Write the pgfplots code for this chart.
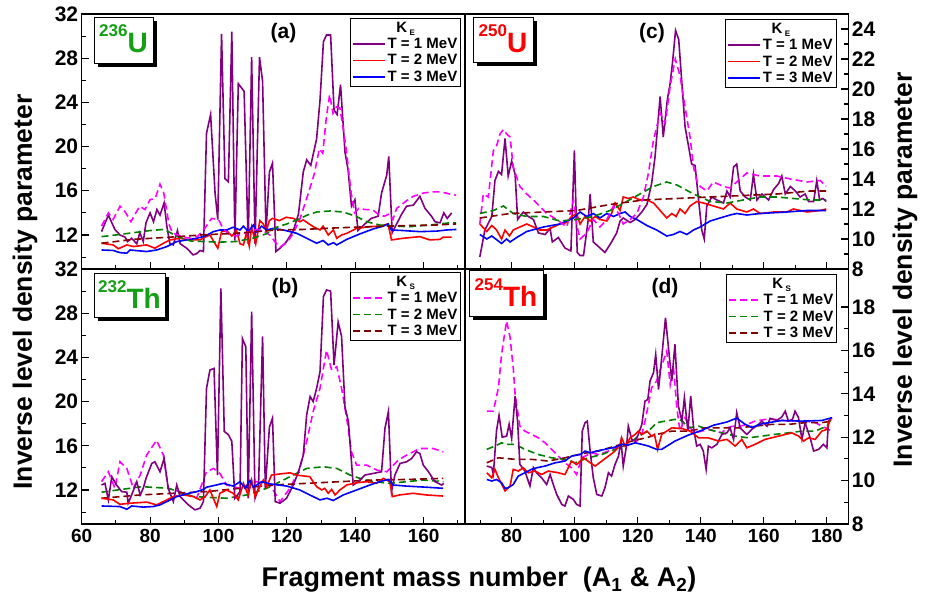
\documentclass[border=0pt]{standalone}
\usepackage{pgfplots}
\pgfplotsset{compat=1.18}
\usepackage{fontspec}
\setmainfont{Liberation Sans}
\definecolor{cpur}{RGB}{128,0,128}
\definecolor{cred}{RGB}{255,0,0}
\definecolor{cblu}{RGB}{0,0,255}
\definecolor{cmag}{RGB}{255,0,255}
\definecolor{cgrn}{RGB}{0,128,0}
\definecolor{cbrn}{RGB}{128,0,0}
\definecolor{lgrn}{RGB}{20,160,20}
\begin{document}
\begin{tikzpicture}[x=1pt,y=1pt]
\path[use as bounding box] (0,0) rectangle (926,605);
\pgfplotsset{
  every axis/.append style={
    scale only axis, width=383.3pt, height=255pt,
    axis line style={line width=1.4pt},
    tick style={line width=1.1pt, black},
    major tick length=7pt, minor tick length=4pt,
    minor x tick num=1, minor y tick num=1,
    yticklabel style={font=\fontsize{21}{23}\selectfont\bfseries},
    xticklabel style={font=\fontsize{19}{21}\selectfont\bfseries, yshift=-2pt},
    /pgf/number format/assume math mode=true,
    xtick pos=left,
    legend cell align=left,
    legend style={draw=black, line width=0.8pt, fill=white,
      font=\fontsize{15}{17}\selectfont\bfseries, inner sep=1.5pt, row sep=0.5pt,
      /tikz/every even column/.append style={column sep=4pt}},
    legend image code/.code={\draw[#1, line width=1.6pt] (0pt,0pt) -- (32pt,0pt);},
  },
  every axis plot/.append style={line width=1.6pt},
  ke1/.style={cpur, solid},
  ke2/.style={cred, solid},
  ke3/.style={cblu, solid},
  ks1/.style={cmag, dash pattern=on 7pt off 4pt},
  ks2/.style={cgrn, dash pattern=on 7pt off 4pt},
  ks3/.style={cbrn, dash pattern=on 7pt off 4pt},
}
\newcommand{\ltitle}[1]{\makebox[36pt][c]{K\,\raisebox{-3.5pt}{\fontsize{8}{9}\selectfont #1}}}
% ---------------- (a) 236U ----------------
\begin{axis}[at={(81.7pt,336pt)}, anchor=south west,
  xmin=60, xmax=172.1, ymin=8.92, ymax=32,
  xtick={60,80,...,180}, xticklabels={},
  ytick={8,12,...,32}, ytick pos=left,
  legend style={at={(0.99,0.985)}, anchor=north east}]
\addlegendimage{empty legend}\addlegendentry{\ltitle{E}}
\addplot[ke1] coordinates {(65.8,12.3)(67.8,13.8)(69.7,12.5)(71.2,12.0)(72.7,11.8)(73.4,11.4)(74.6,11.7)(76.1,11.2)(77,12.2)(78,11.4)(78.8,13.1)(80,14)(81,13.2)(82,14.3)(82.9,13.8)(84.1,14.9)(84.9,12.8)(85.8,11.2)(86.8,11.1)(88,12.4)(88.8,11.2)(90.7,10.8)(92.6,10.2)(93.6,10.3)(94.6,10.6)(95.6,10.5)(96.5,21.2)(97.7,22.9)(99,15.8)(99.8,13.4)(100.9,30.2)(101.9,17.1)(102.9,16.8)(103.9,30.4)(104.8,11.5)(105.8,25.7)(107.5,25)(108.7,11.2)(109.7,28.1)(110.7,11.2)(112,28.1)(112.9,25.9)(113.9,12.2)(114.9,17.7)(115.8,18.5)(116.8,10.5)(118,10.8)(119.9,11.4)(121.9,12.4)(123.4,13.9)(124.8,17.7)(125.8,18.8)(127,18.3)(128.7,20.7)(129.7,24.2)(130.7,29.5)(131.6,30.1)(132.8,30.1)(133.8,23.3)(134.7,22.9)(135.7,25.6)(137,19.5)(137.9,17.9)(138.9,14.6)(139.9,15.2)(140.8,12.4)(142.8,13)(144.7,13.5)(146.7,13.7)(147.7,15.8)(149.2,17.4)(149.8,19.1)(150.8,12.2)(152.1,13.0)(153.6,13.9)(155,14.6)(157,14.7)(158.9,15.5)(160.4,14.4)(162.3,13.7)(163.3,13.2)(164.8,13.1)(165.9,14)(166.9,13.5)(168.2,14.0)};
\addlegendentry{T = 1 MeV}
\addplot[ke2] coordinates {(65.8,11.25)(69.2,11.1)(70.7,10.75)(73.2,11.1)(75.1,10.95)(79,11.1)(81.4,10.8)(83.9,11.25)(85.8,11.55)(88.7,11.7)(91.7,11.55)(94.6,11.55)(96,11.8)(97.5,12.0)(99.8,10.8)(100.9,12.3)(102.4,12.4)(103.9,11.9)(105.3,12.4)(106.3,11.2)(107.3,11.1)(108.2,12.2)(109,11.0)(109.7,12.7)(110.2,12.1)(110.9,11.2)(111.6,12.4)(112.1,13.3)(113.1,13.0)(114,12.4)(114.9,13.3)(115.8,13.5)(117.8,13.3)(119.8,13.6)(121.9,13.5)(123.8,13.2)(124.8,13.36)(127.7,12.75)(129.7,12.45)(130.6,12.8)(132.1,12.0)(133.6,12.45)(134.6,11.7)(136,12.0)(137.5,12.15)(140.4,12.6)(144.3,12.75)(147.2,12.8)(149.6,13.0)(150.6,11.55)(154,11.7)(158.9,11.85)(161.8,11.55)(164.8,11.6)(165.7,11.8)(168.2,11.8)};
\addlegendentry{T = 2 MeV}
\addplot[ke3] coordinates {(65.8,10.64)(69.2,10.6)(71.2,10.4)(73.2,10.35)(74.1,10.64)(79,10.5)(81.9,10.64)(84.9,10.95)(87.8,11.4)(90.7,11.55)(93.6,11.7)(96.1,11.9)(98.5,12.3)(100.4,12.45)(102.4,12.45)(104.3,12.7)(106.3,12.45)(107.3,12.8)(108.7,12.3)(110.2,12.9)(111.2,12.3)(112.6,12.8)(114.1,12.45)(116,12.6)(119,12.45)(122.9,12.15)(125.8,11.7)(128.7,11.25)(130.6,11.5)(132.1,11.1)(133.6,11.3)(134.6,11.1)(137.5,11.6)(141.4,12.1)(145.3,12.55)(148.2,12.8)(149.6,13.0)(150.6,12.45)(154,12.4)(158.9,12.3)(163.8,12.35)(166.7,12.45)(169.6,12.5)};
\addlegendentry{T = 3 MeV}
\addplot[ks1, forget plot] coordinates {(65.8,12.8)(67.8,14)(69.2,13.4)(71.2,14.6)(72.7,14.1)(74.4,13.2)(76,14.1)(77,14.6)(78.5,14.3)(80,15.2)(81.5,15.3)(82.9,16.6)(84,15.8)(85.5,13)(86.5,12.2)(88,12)(90,11.8)(92,11.7)(94,11.9)(96,12.6)(98,13.5)(100,13.4)(101.5,12.5)(103,12.1)(105,11.9)(107,12.1)(109,12.3)(111,12.5)(113,12.4)(115,12.0)(117,11.2)(118,10.9)(120,11.3)(122,12.2)(124,13.6)(126,15.5)(128,17.5)(129.5,19.8)(130.5,19.4)(131.5,22.5)(132.5,24.7)(133.5,23)(134.5,23.6)(135.5,23.5)(136.5,21.6)(137.5,19.4)(138.8,15.8)(139.8,14)(141,14.4)(143,14.3)(145,14.3)(147,13.8)(148.5,13.7)(150,13.9)(151,13.4)(152.1,14.4)(155,15.1)(157,15.5)(160,15.8)(162.7,15.9)(165,15.9)(167.7,15.7)(169.5,15.6)};
\addplot[ks2, forget plot] coordinates {(65.8,11.85)(70,12.0)(75,12.2)(80,12.4)(84,12.5)(86,12.2)(88,11.85)(92,11.45)(96,11.4)(100,11.35)(105,11.4)(110,11.7)(114,12.1)(117,12.7)(120,13.0)(122.9,13.36)(126,13.8)(128.7,14.08)(132.6,14.17)(136.5,14.08)(140.4,13.66)(143.3,13.2)(147.2,12.9)(151.1,12.8)(156,12.75)(161.8,12.9)(167.7,13.1)(169.5,13.1)};
\addplot[ks3, forget plot] coordinates {(65.8,11.25)(75,11.6)(85.8,11.8)(95,12.0)(105,12.15)(117,12.45)(124.8,12.5)(135,12.65)(144.3,12.75)(155,12.85)(163.7,12.9)(169.5,13.0)};
\end{axis}
% ---------------- (b) 232Th ----------------
\begin{axis}[at={(81.7pt,81pt)}, anchor=south west,
  xmin=60, xmax=172.1, ymin=8.92, ymax=32,
  xtick={60,80,...,180},
  ytick={8,12,...,32}, ytick pos=left,
  legend style={at={(0.99,0.988)}, anchor=north east}]
\addlegendimage{empty legend}\addlegendentry{\ltitle{S}}
\addplot[ks1] coordinates {(65.8,12.75)(67.8,13.65)(69.7,12.15)(71.2,14.55)(73.2,13.95)(75.1,12.15)(77.1,13.35)(79.0,15.15)(81.9,16.5)(83.9,15.15)(85.3,12.15)(88.8,11.85)(93.6,11.25)(96.5,13.65)(98.5,13.95)(100.4,13.5)(102.4,12.45)(106.3,12.15)(111.2,12.75)(115.1,12.45)(118.0,10.95)(120.9,12.15)(123.8,13.95)(125.8,16.4)(127.7,19.1)(129.7,21.2)(131.6,24.65)(133.1,22.85)(134.6,23.15)(136.0,21.2)(137.5,18.5)(138.9,15.45)(140.4,14.25)(143.3,14.25)(146.3,13.8)(149.2,13.65)(150.2,13.95)(152.6,14.7)(155.0,15.15)(158.9,15.75)(162.8,15.75)(165.8,15.45)};
\addlegendentry{T = 1 MeV}
\addplot[ks2] coordinates {(65.8,11.8)(77.6,12.3)(85.4,12.15)(88.8,11.8)(92.7,11.4)(102.4,11.25)(108.2,11.55)(114.1,12.15)(118,12.75)(121.9,13.35)(125.8,13.95)(130.7,14.1)(134.6,13.95)(138.5,13.35)(141.4,13.05)(145.3,12.75)(150.2,12.6)(155,12.75)(159.9,12.9)(165.8,12.75)};
\addlegendentry{T = 2 MeV}
\addplot[ks3] coordinates {(65.8,11.25)(77.1,11.55)(86.8,11.7)(96.5,11.85)(106.3,12.15)(116,12.45)(125.8,12.6)(135.5,12.75)(145.3,12.9)(155,12.95)(165.8,13.05)};
\addlegendentry{T = 3 MeV}
\addplot[ke1, forget plot] coordinates {(65.8,12.45)(66.8,12.6)(67.8,11.1)(68.8,13.2)(70.2,12.45)(71.7,11.85)(73.2,11.8)(73.6,10.8)(74.6,11.55)(76.1,12.75)(77.1,11.55)(78.0,12.15)(78.8,13.05)(80.5,14.4)(81.4,14.55)(82.9,13.65)(84.1,14.85)(85.3,12.15)(86.8,10.95)(87.8,12.45)(88.8,11.4)(91.2,10.65)(93.1,10.2)(94.6,10.35)(95.6,10.95)(96.5,21.2)(97.5,22.85)(98.7,23.0)(99.7,13.35)(100.7,30.25)(101.7,17.3)(102.9,17.0)(103.9,16.4)(104.8,11.25)(106.3,11.85)(107.0,25.7)(108.0,24.95)(108.7,11.25)(109.7,28.15)(110.7,11.25)(111.7,12.15)(112.9,25.9)(113.7,12.15)(114.9,17.7)(115.8,18.5)(116.6,10.95)(118.0,10.8)(119.9,11.25)(121.9,12.45)(123.4,13.65)(124.8,15.15)(125.8,18.8)(126.8,20.45)(127.7,20.0)(128.7,21.2)(129.7,22.7)(130.7,29.5)(131.6,30.1)(132.8,30.0)(133.8,23.3)(135.0,27.2)(136.0,25.9)(137.0,19.5)(138.0,18.2)(138.9,14.55)(139.4,12.45)(140.9,12.75)(142.8,13.35)(145.3,13.5)(147.7,13.65)(148.7,17.6)(149.7,19.1)(150.6,11.85)(151.6,13.35)(153.1,14.4)(155.0,14.55)(156.5,14.85)(157.9,15.45)(158.9,15.3)(159.9,14.25)(161.4,13.65)(163.3,12.75)(165.3,12.45)(165.9,12.6)};
\addplot[ke2, forget plot] coordinates {(65.8,11.25)(69.2,11.1)(71.2,10.7)(74.1,10.8)(79,10.9)(81.9,10.65)(83.9,10.95)(86.8,11.4)(89.8,11.55)(92.7,11.4)(94.6,11.1)(96.1,11.4)(97.5,12.0)(99.5,10.5)(100.4,11.7)(102.4,12.0)(104.3,11.7)(105.8,11.1)(107.3,12.6)(108.7,11.55)(109.7,12.9)(110.7,11.4)(112.1,12.3)(113.1,12.9)(114.1,12.3)(115.5,13.35)(118,13.45)(120.9,13.55)(122.8,13.35)(126.7,13.2)(128.7,12.3)(130.2,12.0)(131.1,12.15)(132.1,11.7)(133.1,12.05)(134.1,11.55)(135.5,12.0)(137.5,12.45)(140.4,12.65)(143.3,12.75)(146.2,12.6)(148.2,13.05)(150.1,12.75)(150.9,11.4)(153,11.55)(156.9,11.7)(160.8,11.55)(165.7,11.45)};
\addplot[ke3, forget plot] coordinates {(65.8,10.55)(71.2,10.5)(73.2,10.25)(74.6,10.55)(78,10.45)(80.9,10.5)(82.9,10.65)(84.9,10.95)(87.8,11.4)(90.7,11.65)(93.6,11.85)(95.6,12.05)(96.5,12.25)(99.4,12.45)(101.4,12.6)(104.3,12.35)(106.3,12.75)(107.8,12.15)(109.2,12.85)(110.2,12.25)(112.6,12.75)(115.1,12.55)(120,12.35)(123.8,12.0)(126.7,11.55)(129.7,11.1)(131.7,11.25)(133.6,11.05)(136.5,11.55)(140.4,12.0)(144.3,12.45)(147.2,12.75)(149.6,12.95)(151.1,12.45)(155,12.35)(160.8,12.25)(165.7,12.15)};
\end{axis}
% ---------------- (c) 250U ----------------
\begin{axis}[at={(465pt,336pt)}, anchor=south west,
  xmin=65.2, xmax=186.8, ymin=8, ymax=25,
  xtick={60,80,...,180}, xticklabels={},
  ytick={8,10,...,24}, ytick pos=right, yticklabel pos=right,
  legend style={at={(0.969,0.98)}, anchor=north east}]
\addlegendimage{empty legend}\addlegendentry{\ltitle{E}}
\addplot[ke1] coordinates {(69.9,8.8)(71.5,10.6)(73.7,11.5)(74.7,13.9)(75.8,14.5)(76.8,14.3)(77.9,16.7)(78.9,14.2)(80,15.2)(81.1,14.3)(81.9,11.3)(83.7,11.8)(85.3,11.5)(86.9,11.3)(88.5,10.4)(90.6,10.3)(92.2,10.7)(92.9,9.8)(94.8,10.1)(96.9,9.4)(98.8,9.2)(99.9,15.9)(100.8,9.1)(101.7,8.9)(102.8,8.9)(104.3,11.3)(104.9,13.0)(105.9,9.8)(107.5,9.5)(109.6,9.1)(111.7,9.8)(113.3,10.4)(114.4,11.2)(115.4,11.4)(117.6,11.1)(119.2,11.3)(121.3,11.8)(122.9,12.3)(124.4,13.7)(125.5,15.5)(127.1,19.5)(128.1,16.8)(129.4,19.3)(130.3,20.4)(131.1,21.9)(132,23.9)(133,23.3)(134,20.4)(135,17.5)(136.1,16.2)(137.1,15.0)(138.2,14.9)(139.3,12.6)(140.3,10.6)(141.1,10.0)(141.9,12.2)(143.5,12.8)(145.1,12.6)(147.2,12.4)(148.3,13.2)(149.3,12.8)(150.4,14.8)(151.4,15.0)(152.5,13.2)(154.1,12.8)(155.7,12.6)(156.7,14.3)(157.8,12.6)(159.4,13.0)(160.4,12.8)(161.5,12.6)(163.1,13.3)(164.7,13.7)(165.7,14.2)(166.8,13.0)(168.4,13.5)(170,13.2)(171.5,12.8)(173.1,13.0)(174.2,12.5)(175.8,12.5)(176.8,13.9)(177.7,12.6)(178.7,12.7)(179.8,12.5)};
\addlegendentry{T = 1 MeV}
\addplot[ke2] coordinates {(69.9,11.0)(72.1,10.5)(73.7,10.9)(75.2,10.6)(76.8,10.0)(77.9,10.6)(79.3,10.2)(80.5,10.6)(82.6,10.8)(84.8,11.0)(86.9,10.8)(89,10.6)(91.1,10.6)(93.2,10.8)(95.3,11.0)(97.5,11.1)(99,11.5)(100.6,11.7)(101.7,11.0)(103.3,11.5)(104.9,11.2)(106.5,11.5)(108,11.3)(110.2,11.2)(111.7,11.7)(112.8,12.4)(114.4,11.9)(115.4,12.8)(117,12.7)(118.6,12.8)(120.7,12.6)(122.9,12.6)(125,12.4)(127.1,11.9)(129.2,11.4)(130.8,11.7)(132.2,11.5)(133.4,12.0)(135,11.7)(136.6,12.2)(138.7,12.5)(140.8,12.4)(144,12.2)(147.2,12.0)(149.3,12.4)(151.4,12.0)(154.6,11.8)(156.7,12.0)(158.8,11.7)(163.1,11.8)(167.3,11.8)(169.4,12.0)(173.7,11.8)(177.9,11.9)(179.8,12.0)};
\addlegendentry{T = 2 MeV}
\addplot[ke3] coordinates {(69.9,10.3)(72.1,10.0)(73.7,10.2)(76.8,9.7)(78.4,10.0)(79.5,9.8)(81.6,10.1)(84.8,10.5)(90.1,10.8)(95.3,11.0)(99.6,11.4)(101.7,11.8)(103.8,11.5)(105.9,11.7)(108,11.4)(110.2,11.7)(112.3,11.5)(114.4,11.7)(116,11.8)(117.6,11.5)(119.7,11.3)(122.9,10.9)(126,10.6)(129.2,10.2)(131.3,10.3)(133.4,10.5)(135.6,10.3)(137.7,10.6)(139.8,10.8)(143,11.2)(146.1,11.4)(149.3,11.6)(151.4,11.7)(154.6,11.6)(158.8,11.7)(163.1,11.75)(167.3,11.8)(173.7,11.9)(179.8,11.9)};
\addlegendentry{T = 3 MeV}
\addplot[ks1, forget plot] coordinates {(69.9,11.0)(71,13.0)(72.6,12.8)(74.2,15.9)(75.2,16.2)(76.3,17.0)(77.4,17.3)(78.4,17.0)(79.5,16.8)(80.5,14.8)(82.6,13.5)(84.8,13.0)(87.9,12.4)(91.1,11.7)(94.3,11.3)(97.5,10.8)(99.6,12.6)(100.6,11.0)(101.7,10.0)(103.8,10.4)(105.9,11.3)(108,10.8)(110.2,11.3)(112.3,12.2)(113.9,11.7)(115.4,11.0)(117.6,11.3)(119.7,11.7)(121.8,12.8)(123.4,14.4)(125,16.6)(127.1,18.4)(128.7,17.7)(130.3,20.2)(131.9,22.0)(133.4,20.9)(135,18.8)(136.6,16.8)(137.7,14.8)(138.7,13.9)(139.8,13.5)(141.9,13.2)(144,13.8)(147.2,13.5)(149.3,13.4)(151.4,13.8)(154.6,14.4)(158.8,14.2)(164.1,14.2)(168.4,14.0)(173.7,13.8)(177.9,13.9)(179.8,13.5)};
\addplot[ks2, forget plot] coordinates {(69.9,11.7)(74.2,11.9)(77.4,12.2)(80.5,11.7)(84.8,11.5)(90.1,11.5)(95.3,11.2)(100.6,11.3)(105.9,11.5)(111.2,11.9)(116.5,12.5)(120.7,13.0)(125,13.5)(129.2,13.8)(132.4,13.6)(137.7,13.0)(143,12.5)(148.3,12.4)(153.5,12.6)(158.8,12.8)(164.1,12.8)(169.4,12.7)(174.7,12.6)(179.8,12.6)};
\addplot[ks3, forget plot] coordinates {(69.9,11.4)(79.5,11.7)(90.1,11.8)(100.6,11.9)(111.2,12.3)(121.8,12.6)(132.4,12.7)(143,12.8)(153.5,12.9)(164.1,13.0)(174.7,13.2)(179.8,13.2)};
\end{axis}
% ---------------- (d) 254Th ----------------
\begin{axis}[at={(465pt,81pt)}, anchor=south west,
  xmin=65.2, xmax=186.8, ymin=8, ymax=19.75,
  xtick={60,80,...,180},
  ytick={8,10,...,18}, ytick pos=right, yticklabel pos=right,
  legend style={at={(0.971,0.98)}, anchor=north east}]
\addlegendimage{empty legend}\addlegendentry{\ltitle{S}}
\addplot[ks1] coordinates {(72.1,13.2)(74.2,13.2)(75.8,14.28)(76.8,15.81)(77.9,16.9)(78.4,17.35)(79.5,16.6)(80.5,15.2)(81.1,13.97)(82.6,12.51)(84.2,12.28)(86.3,12.13)(88.5,11.97)(90.6,11.74)(92.7,11.44)(94.8,11.13)(96.9,10.82)(99,10.59)(100.6,10.28)(102.2,11.05)(105.4,11.28)(107.5,11.2)(110.7,11.36)(113.9,11.59)(117,11.67)(119.2,11.74)(121.3,12.13)(122.3,12.74)(123.4,13.51)(124.4,14.28)(126,14.59)(126.6,14.89)(128.1,15.5)(129.2,15.97)(130.3,14.43)(131.3,15.28)(132.4,13.36)(133.4,12.28)(135,12.9)(136.6,12.43)(138.2,12.2)(140.3,12.28)(142.4,12.36)(144.5,12.28)(146.7,12.2)(148.3,12.43)(150.4,12.51)(152.5,12.51)(154.6,12.59)(157.2,12.74)(160.4,12.82)(163.6,12.82)(167.8,12.74)(172.1,12.77)(176.3,12.67)(179.5,12.43)(181.6,12.28)};
\addlegendentry{T = 1 MeV}
\addplot[ks2] coordinates {(72.1,11.44)(74.7,11.59)(76.8,11.74)(78.9,11.67)(81.1,11.67)(84.2,11.44)(88.5,11.2)(92.7,11.05)(96.9,10.98)(100.1,10.82)(104.3,11.05)(108.6,11.2)(112.8,11.44)(117,11.67)(120.2,12.05)(123.4,12.28)(126,12.67)(128.7,12.74)(131.8,12.82)(134,12.77)(136.1,12.43)(139.3,12.51)(142.4,12.36)(146.7,12.2)(150.9,12.05)(155.1,11.97)(159.4,12.05)(163.6,12.13)(167.8,12.2)(172.1,12.28)(176.3,12.28)(180,12.51)(181.6,12.87)};
\addlegendentry{T = 2 MeV}
\addplot[ks3] coordinates {(72.1,10.82)(75.8,11.05)(81.1,10.98)(86.3,10.98)(91.6,10.9)(96.9,11.05)(102.2,11.24)(107.5,11.36)(112.8,11.59)(118.1,11.82)(123.4,12.0)(126,12.13)(130.8,12.28)(136.1,12.28)(141.4,12.43)(146.7,12.43)(152,12.43)(157.2,12.51)(162.5,12.59)(167.8,12.59)(173.1,12.67)(178.4,12.67)(181.6,12.74)};
\addlegendentry{T = 3 MeV}
\addplot[ke1, forget plot] coordinates {(72.1,10.67)(73.7,10.6)(74.2,10.3)(75.2,12.3)(76,13.0)(77,12.0)(78.4,12.05)(79.2,12.6)(80,11.94)(81.1,13.9)(81.9,12.7)(82.6,10.75)(84.2,10.44)(85.8,9.75)(86.9,10.6)(87.9,10.36)(89.5,10.13)(91.1,9.82)(92.2,10.28)(93.2,9.82)(94.3,9.36)(95.9,8.9)(96.9,8.83)(98,9.29)(99.6,9.13)(100.6,8.9)(101.7,8.83)(102.4,12.28)(103.3,12.67)(104,12.74)(104.9,11.36)(105.9,10.13)(107,9.36)(108.6,9.29)(109.6,9.67)(110.7,10.36)(111.7,10.21)(112.8,10.75)(113.9,11.13)(114.7,11.82)(115.4,10.67)(116.5,11.67)(117,12.51)(118.1,11.9)(119.2,11.82)(120.2,12.13)(121.3,12.59)(122.3,13.66)(123.2,13.74)(123.9,14.59)(125,14.97)(125.7,15.81)(126.6,14.2)(127.6,15.66)(128.8,17.5)(130.8,14.6)(131.8,16.28)(132.9,13.43)(134,12.74)(134.8,13.82)(135.9,12.28)(136.8,13.9)(137.7,12.43)(138.7,11.59)(139.8,11.67)(140.8,11.36)(141.7,10.52)(142.4,11.59)(143.5,11.51)(145.1,11.67)(146.7,12.13)(148.3,12.2)(149.3,12.43)(150.4,11.9)(151.4,13.13)(152.5,12.43)(153.5,12.28)(154.6,12.13)(156.2,12.36)(158.3,12.59)(159.4,12.74)(161,12.51)(162,12.87)(164.1,12.77)(165.7,12.93)(166.8,13.2)(167.8,12.74)(169.1,12.82)(169.9,13.2)(171,12.9)(172.1,11.9)(173.1,12.67)(174.7,11.97)(175.8,11.36)(177.4,11.44)(178.9,11.67)(180,11.51)(180.5,12.74)(181.6,12.9)};
\addplot[ke2, forget plot] coordinates {(72.1,10.36)(73.7,10.13)(74.7,10.52)(75.8,10.13)(77.9,9.52)(79.5,9.75)(80.5,10.52)(82.1,10.44)(83.7,10.59)(85.3,10.36)(87.4,10.44)(89.5,10.28)(91.6,10.44)(94.8,10.36)(96.9,10.28)(99,10.9)(100.6,10.74)(102.8,11.05)(104.9,10.82)(106.5,10.67)(108.6,10.9)(110.7,11.13)(112.8,11.36)(114.4,11.67)(114.9,11.97)(116,11.59)(117.6,11.97)(119.2,12.13)(120.2,12.28)(121.3,12.13)(122.9,12.28)(124.4,12.05)(125.3,12.13)(126.3,11.44)(127.6,12.13)(130.8,12.43)(134,12.4)(136.6,12.28)(139.3,11.97)(142.4,11.97)(145.6,11.82)(148.3,11.9)(150.9,11.59)(153,11.9)(154.6,11.51)(157.2,11.67)(160.4,11.9)(164.7,12.05)(168.9,12.2)(171,12.05)(172.6,11.82)(174.2,11.97)(176.3,11.9)(178.4,12.28)(180,12.36)(181,12.82)(181.6,12.9)};
\addplot[ke3, forget plot] coordinates {(72.1,10.05)(73.7,9.98)(75.2,10.05)(76.8,9.9)(77.9,9.64)(78.9,9.67)(80.5,9.82)(82.1,10.21)(84.2,10.36)(86.3,10.52)(87.9,10.59)(90.6,10.67)(93.8,10.82)(96.9,10.9)(99,11.13)(101.7,11.2)(103.3,11.36)(104.9,11.28)(107,11.36)(109.6,11.44)(112.8,11.54)(114.9,11.67)(117,11.64)(119.2,11.74)(121.3,11.67)(123.4,11.59)(126,11.44)(127.6,11.44)(131.8,11.82)(136.1,12.1)(140,12.3)(144,12.55)(148.3,12.7)(151.4,12.88)(154,12.6)(156.2,12.45)(159.4,12.62)(165.7,12.77)(172.1,12.74)(178.4,12.77)(181.6,12.9)};
\end{axis}
% ---------------- annotations ----------------
\fill[black] (98,538) rectangle (157,584);
\draw[line width=0.8pt, fill=white] (94,542) rectangle (153,588);
\node[lgrn, font=\bfseries, inner sep=0pt] at (123.5,565.9) {{\fontsize{17}{18}\selectfont\raisebox{16pt}{236}}{\fontsize{28}{30}\selectfont U}};
\fill[black] (98,284) rectangle (169,328);
\draw[line width=0.8pt, fill=white] (94,288) rectangle (165,332);
\node[lgrn, font=\bfseries, inner sep=0pt] at (129.5,310) {{\fontsize{17}{18}\selectfont\raisebox{16pt}{232}}{\fontsize{28}{30}\selectfont Th}};
\fill[black] (477,539) rectangle (537,584);
\draw[line width=0.8pt, fill=white] (473,543) rectangle (533,588);
\node[cred, font=\bfseries, inner sep=0pt] at (503,566) {{\fontsize{17}{18}\selectfont\raisebox{16pt}{250}}{\fontsize{28}{30}\selectfont U}};
\fill[black] (473,285) rectangle (547,331);
\draw[line width=0.8pt, fill=white] (469,289) rectangle (543,335);
\node[cred, font=\bfseries, inner sep=0pt] at (506,312) {{\fontsize{17}{18}\selectfont\raisebox{16pt}{254}}{\fontsize{28}{30}\selectfont Th}};
\node[font=\fontsize{21}{23}\selectfont\bfseries] at (283.5,572) {(a)};
\node[font=\fontsize{21}{23}\selectfont\bfseries] at (285,317) {(b)};
\node[font=\fontsize{21}{23}\selectfont\bfseries] at (652,572) {(c)};
\node[font=\fontsize{21}{23}\selectfont\bfseries] at (665,317) {(d)};
\node[rotate=90, font=\fontsize{26.5}{28}\selectfont\bfseries] at (25,313) {Inverse level density parameter};
\node[rotate=90, font=\fontsize{26.5}{28}\selectfont\bfseries] at (905,335) {Inverse level density parameter};
\node[font=\fontsize{27}{29}\selectfont\bfseries] at (479,25) {Fragment mass number~~(A\textsubscript{1} \& A\textsubscript{2})};
\end{tikzpicture}
\end{document}
